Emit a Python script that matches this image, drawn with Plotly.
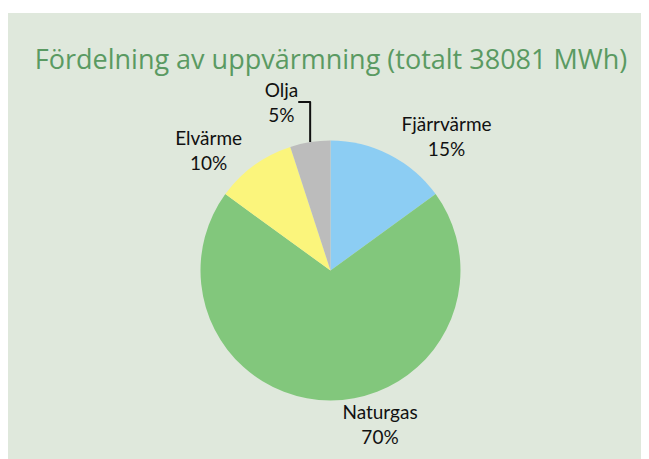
import plotly.graph_objects as go

categories = ["Fjärrvärme", "Naturgas", "Elvärme", "Olja"]
shares = [15, 70, 10, 5]
colors = ["#8ccdf3", "#82c77c", "#fbf57c", "#bcbcbc"]
title_text = "Fördelning av uppvärmning (totalt 38081 MWh)"

W, H = 649, 459

fig = go.Figure()
fig.add_trace(go.Pie(
    labels=categories,
    values=shares,
    marker=dict(colors=colors, line=dict(width=0)),
    sort=False,
    direction="clockwise",
    rotation=0,
    textposition="outside",
    texttemplate="%{label}<br>%{value}%",
    textfont=dict(family="Lato, Open Sans, sans-serif", size=19, color="#111111"),
    showlegend=False,
    hoverinfo="label+percent",
    automargin=False,
    domain=dict(x=[0.2, 0.7938], y=[0.1449, 0.7113]),
))

fig.update_layout(
    width=W, height=H,
    margin=dict(l=0, r=0, t=0, b=0, autoexpand=False),
    paper_bgcolor="#dfe8dc",
    shapes=[dict(type="rect", xref="paper", yref="paper",
                 x0=-0.05, x1=1.05, y0=1 - 5 / H, y1=1.05,
                 fillcolor="white", line=dict(width=0), layer="above")],
    title=dict(text=title_text, x=323 / W, xanchor="center",
               y=1 - 52 / H, yanchor="middle",
               font=dict(family="Open Sans, sans-serif", size=27, color="#5a9a62")),
)

fig.write_html("out.html")
